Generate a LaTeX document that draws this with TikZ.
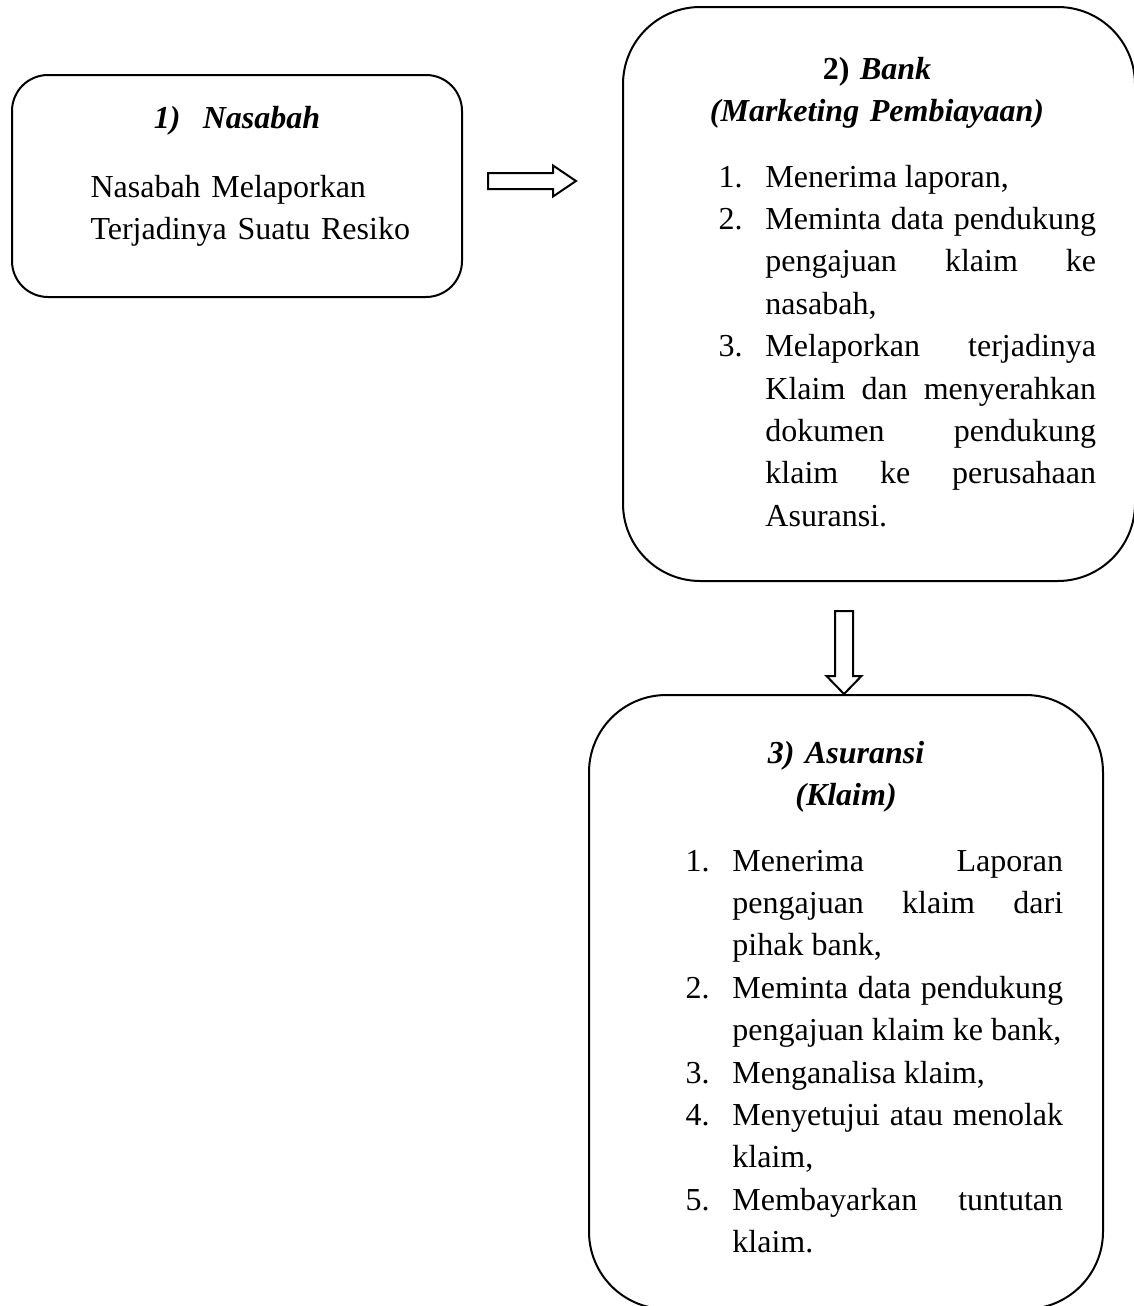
\documentclass[tikz,border=0pt]{standalone}
\usepackage{fontspec}
\setmainfont{Liberation Serif}
\usetikzlibrary{calc}

\hyphenpenalty=10000
\newcommand{\butir}[2]{\noindent\hangindent=17.6pt\hangafter=1\makebox[17.6pt][l]{#1.}#2\par}

\begin{document}
\begin{tikzpicture}[x=0.375pt, y=-0.375pt,
    kotak/.style={draw, line width=0.75pt, rounded corners=29pt, inner sep=0pt},
    judul/.style={font=\fontsize{12pt}{15.9pt}\selectfont\bfseries\itshape, align=center, anchor=base, inner sep=0pt},
    isi/.style={font=\fontsize{12pt}{15.9pt}\selectfont, text width=141.6pt, align=justify, anchor=base west, inner sep=0pt},
    panah/.style={draw, line width=0.75pt, line join=miter, fill=white}]
    \useasboundingbox (0,0) rectangle (1133,1306);

    % Kotak
    \node[kotak, minimum width=168.75pt, minimum height=83.25pt, rounded corners=13.5pt] (nasabah) at (237,186) {};
    \node[kotak, minimum width=192pt, minimum height=215.25pt] (bank) at (879,294) {};
    \node[kotak, minimum width=192.75pt, minimum height=230.25pt] (asuransi) at (846,1002) {};

    % Panah
    \draw[panah] ($(nasabah.east)+(25,-13)$) -- ++(65,0) -- ++(0,-7.5) -- ++(23,15.5)
        -- ++(-23,15.5) -- ++(0,-7.5) -- ++(-65,0) -- cycle;
    \draw[panah] ($(asuransi.north)+(-2,0)$) -- ++(-17.5,-18) -- ++(8.5,0) -- ++(0,-65)
        -- ++(18,0) -- ++(0,65) -- ++(8.5,0) -- cycle;

    % 1) Nasabah
    \node[judul] (judulNasabah) at (237,128) {1)\hspace{0.7em}Nasabah};
    \node[isi, align=left, text width=160pt] (isiNasabah) at (90,197) {Nasabah Melaporkan\\Terjadinya Suatu Resiko};

    % 2) Bank
    \node[judul, text width=190pt] (judulBank) at (877,79) {{\upshape 2)} Bank\\(Marketing Pembiayaan)};
    \node[isi] (isiBank) at (718,187) {%
        \butir{1}{Menerima laporan,}
        \butir{2}{Meminta data pendukung\linebreak pengajuan klaim ke\linebreak nasabah,}
        \butir{3}{Melaporkan terjadinya\linebreak Klaim dan menyerahkan\linebreak dokumen pendukung\linebreak klaim ke perusahaan\linebreak Asuransi.}};

    % 3) Asuransi
    \node[judul, text width=190pt] (judulAsuransi) at (846,763) {3) Asuransi\\(Klaim)};
    \node[isi] (isiAsuransi) at (685,871) {%
        \butir{1}{Menerima Laporan\linebreak pengajuan klaim dari\linebreak pihak bank,}
        \butir{2}{Meminta data pendukung\linebreak pengajuan klaim ke bank,}
        \butir{3}{Menganalisa klaim,}
        \butir{4}{Menyetujui atau menolak\linebreak klaim,}
        \butir{5}{Membayarkan tuntutan\linebreak klaim.}};
\end{tikzpicture}
\end{document}
